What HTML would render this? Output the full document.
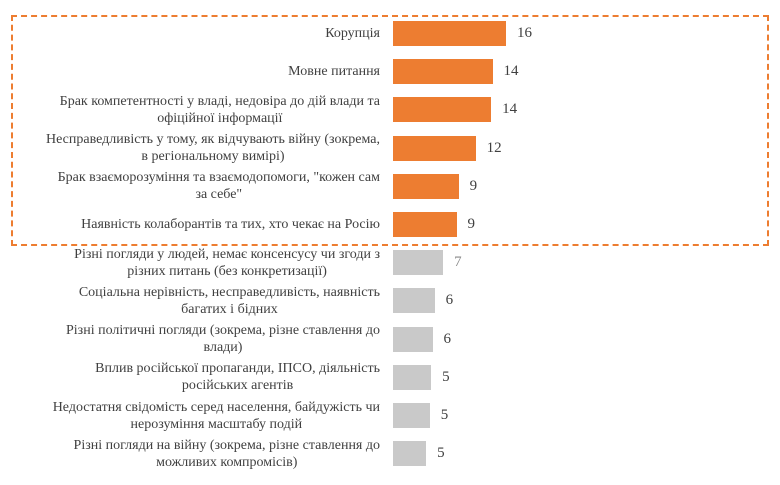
<!DOCTYPE html>
<html><head><meta charset="utf-8"><style>
html,body{margin:0;padding:0;background:#fff;}
#wrap{position:relative;width:780px;height:485px;overflow:hidden;font-family:"Liberation Serif",serif;color:#404040;}
.lbl{position:absolute;right:400px;text-align:center;white-space:nowrap;font-size:14px;line-height:17px;}
.bar{position:absolute;height:25px;}
.val{position:absolute;font-size:15px;line-height:17px;}
#box{position:absolute;left:11px;top:15px;width:754px;height:227px;border:2px dashed #ED7D31;}
</style></head><body>
<div id="wrap">
<div id="box"></div>
</div>
<script>
const categories = [
 "Корупція",
 "Мовне питання",
 "Брак компетентності у владі, недовіра до дій влади та|офіційної інформації",
 "Несправедливість у тому, як відчувають війну (зокрема,|в регіональному вимірі)",
 "Брак взаєморозуміння та взаємодопомоги, \"кожен сам|за себе\"",
 "Наявність колаборантів та тих, хто чекає на Росію",
 "Різні погляди у людей, немає консенсусу чи згоди з|різних питань (без конкретизації)",
 "Соціальна нерівність, несправедливість, наявність|багатих і бідних",
 "Різні політичні погляди (зокрема, різне ставлення до|влади)",
 "Вплив російської пропаганди, ІПСО, діяльність|російських агентів",
 "Недостатня свідомість серед населення,  байдужість чи|нерозуміння масштабу подій",
 "Різні погляди на війну (зокрема, різне ставлення до|можливих компромісів)"
];
const values = [16.0, 14.1, 13.9, 11.7, 9.3, 9.0, 7.1, 5.9, 5.6, 5.4, 5.2, 4.7];
const highlighted = [true,true,true,true,true,true,false,false,false,false,false,false];

const x0 = 393, pxPerUnit = 7.06;
const xScale = v => v * pxPerUnit;
const yCenter = i => 33.5 + i * 38.2;
const wrap = document.getElementById('wrap');
categories.forEach((c, i) => {
  const cy = yCenter(i);
  const lines = c.split('|');
  const l = document.createElement('div');
  
  
  l.className = 'lbl';
  l.innerHTML = lines.map(s => s.replace(/&/g,'&amp;').replace(/</g,'&lt;')).join('<br>');
  l.style.top = (cy - lines.length * 17 / 2) + 'px';
  wrap.appendChild(l);
  const b = document.createElement('div');
  
  
  b.className = 'bar';
  b.style.left = x0 + 'px';
  b.style.top = (cy - 12.5) + 'px';
  b.style.width = xScale(values[i]) + 'px';
  b.style.background = highlighted[i] ? '#ED7D31' : '#C9C9C9';
  wrap.appendChild(b);
  const v = document.createElement('div');
  
  
  v.className = 'val';
  v.textContent = Math.round(values[i]);
  v.style.left = (x0 + xScale(values[i]) + 11) + 'px';
  v.style.top = (cy - 8.5) + 'px';
  if (i === 6) v.style.color = '#8a8a8a';
  wrap.appendChild(v);
});
</script>
</body></html>
